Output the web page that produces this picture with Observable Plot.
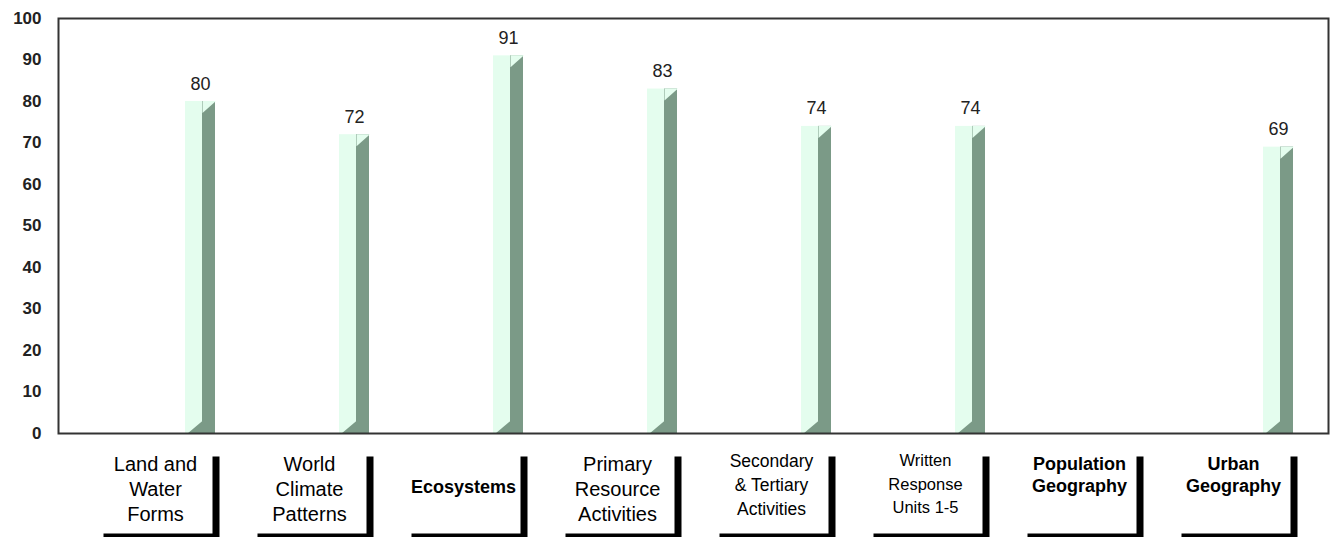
<!DOCTYPE html>
<html><head><meta charset="utf-8">
<script src="https://cdn.jsdelivr.net/npm/d3@7"></script>
<script src="https://cdn.jsdelivr.net/npm/@observablehq/plot@0.6"></script>
<style>html,body{margin:0;padding:0;background:#fff;overflow:hidden}</style>
</head><body><div id="chart"></div>
<script>
// ---- data ----
const categories = ["Land and Water Forms","World Climate Patterns","Ecosystems","Primary Resource Activities","Secondary & Tertiary Activities","Written Response Units 1-5","Population Geography","Urban Geography"];
const tickLabels = ["Land and\nWater\nForms","World\nClimate\nPatterns","Ecosystems","Primary\nResource\nActivities","Secondary\n& Tertiary\nActivities","Written\nResponse\nUnits 1-5","Population\nGeography","Urban\nGeography"];
const values = [80, 72, 91, 83, 74, 74, null, 69];
const yTicks = [0, 10, 20, 30, 40, 50, 60, 70, 80, 90, 100];

// ---- styles ----
const FONT = "Liberation Sans, Arial, Helvetica, sans-serif";
const LIGHT = "#e4fdee", DARK = "#7b9a87";
const labelStyle = {
  "Land and Water Forms":            {size: 20,   weight: "normal", lh: 1.27, dy: 19},
  "World Climate Patterns":          {size: 20,   weight: "normal", lh: 1.27, dy: 19},
  "Ecosystems":                      {size: 18,   weight: "bold",   lh: 1.0,  dy: 47},
  "Primary Resource Activities":     {size: 20,   weight: "normal", lh: 1.27, dy: 19},
  "Secondary & Tertiary Activities": {size: 17.5, weight: "normal", lh: 1.36, dy: 17},
  "Written Response Units 1-5":      {size: 16.5, weight: "normal", lh: 1.42, dy: 16},
  "Population Geography":            {size: 18,   weight: "bold",   lh: 1.22, dy: 21},
  "Urban Geography":                 {size: 18,   weight: "bold",   lh: 1.22, dy: 21}
};

const data = categories.map((c, i) => ({cat: c, label: tickLabels[i], value: values[i]}));
const bars = data.filter(d => d.value != null);

const step = 154, x0 = 123;
function poly(pts) {
  return {draw(ctx) {
    ctx.moveTo(pts[0][0], pts[0][1]);
    for (const p of pts.slice(1)) ctx.lineTo(p[0], p[1]);
    ctx.closePath();
  }};
}
const topTri = poly([[2, -0.5], [15.5, -0.5], [2, 11.5]]);
const bottomTri = poly([[2.5, 0], [2.5, -13], [-13, 0]]);
const bracket = poly([[12, 23], [19, 23], [19, 110], [-97, 110], [-97, 100], [12, 100]]);

const labelMarks = data.map(d => {
  const s = labelStyle[d.cat];
  return Plot.text([d], {x: "cat", frameAnchor: "bottom", text: "label", dx: -45, dy: s.dy,
    lineAnchor: "top", fontSize: s.size, fontWeight: s.weight, lineHeight: s.lh, fill: "#000", fontFamily: FONT});
});

const chart = Plot.plot({
  width: 1331, height: 537,
  marginLeft: 58, marginRight: 3, marginTop: 18, marginBottom: 104,
  style: {fontFamily: FONT, background: "#fff", overflow: "visible"},
  x: {type: "band", domain: categories, range: [x0, x0 + step * categories.length], padding: 0, axis: null},
  y: {domain: [0, 100], axis: null},
  marks: [
    Plot.axisY({ticks: yTicks, label: null, tickSize: 0, tickPadding: 17, fontSize: 17, fontWeight: "bold", fill: "#222", fontFamily: FONT}),
    Plot.barY(bars, {x: "cat", y: "value", fill: LIGHT, insetLeft: 62, insetRight: 62}),
    Plot.barY(bars, {x: "cat", y: "value", fill: DARK, insetLeft: 79, insetRight: 62}),
    Plot.dot(bars, {x: "cat", y: "value", symbol: topTri, fill: LIGHT, stroke: "none"}),
    Plot.dot(bars, {x: "cat", y: () => 0, symbol: bottomTri, fill: DARK, stroke: "none"}),
    Plot.text(bars, {x: "cat", y: "value", text: "value", dy: -12, lineAnchor: "bottom", fontSize: 18, fill: "#222", fontFamily: FONT}),
    Plot.frame({stroke: "#333", strokeWidth: 2}),
    Plot.dot(data, {x: "cat", frameAnchor: "bottom", symbol: bracket, fill: "#000", stroke: "none"}),
    ...labelMarks
  ]
});
document.getElementById("chart").append(chart);
</script>
</body></html>
